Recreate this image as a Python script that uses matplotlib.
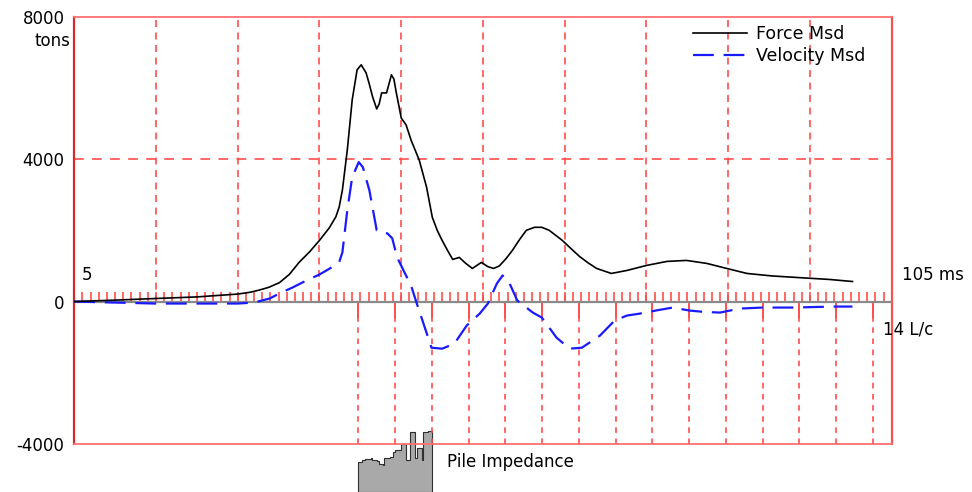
import matplotlib
matplotlib.use('Agg')
import matplotlib.pyplot as plt
import numpy as np

plt.rcParams['font.family'] = ['DejaVu Sans']
plt.rcParams['font.size'] = 12
plt.rcParams['lines.scale_dashes'] = False

# measured force (tons) vs time (ms)
force_t = [5, 10, 14.9, 20, 25, 26.5, 27.6, 28.8, 30.1, 31.3, 32.5, 33.8, 35, 36.2, 37.0,
           37.4, 37.8, 38.4, 39.0, 39.6, 40.1, 40.7, 41.1, 41.5, 42.0, 42.3, 42.6, 43.2,
           43.8, 44.1, 44.4, 45.0, 45.6, 46.2, 47.2, 48.1, 48.8, 49.4, 50.0, 50.7, 51.3,
           52.1, 52.9, 53.7, 54.8, 55.6, 56.3, 57.0, 57.8, 58.6, 59.5, 60.3, 61.3, 62.2,
           63.1, 64.7, 65.8, 66.8, 67.9, 68.9, 70.7, 72.6, 75.0, 77.5, 79.9, 82.4, 84.8,
           87.3, 90.3, 93.4, 97.4, 100.2]
force_v = [0, 40, 85, 130, 210, 260, 320, 400, 530, 760, 1099, 1400, 1718, 2070, 2380,
           2648, 3127, 4254, 5662, 6507, 6648, 6423, 6100, 5747, 5409, 5550, 5859, 5859,
           6366, 6250, 5859, 5155, 4958, 4535, 3972, 3211, 2366, 2000, 1718, 1420, 1183,
           1239, 1070, 930, 1099, 980, 930, 1000, 1200, 1437, 1750, 2000, 2085, 2085,
           2000, 1718, 1480, 1268, 1080, 930, 789, 873, 1014, 1127, 1155, 1070, 930,
           789, 720, 676, 620, 563]

# measured velocity (scaled to force units) vs time (ms)
vel_t = [5, 14.9, 25, 27.0, 28.9, 30.2, 31.7, 33.3, 35.0, 36.2, 37.4, 37.8, 38.4, 39.0,
         39.8, 40.3, 41.1, 42.0, 42.7, 43.3, 43.9, 44.5, 45.4, 46.2, 46.9, 47.6, 48.7,
         50.0, 51.5, 53.0, 54.6, 55.6, 56.7, 57.4, 58.2, 59.2, 61.1, 62.2, 64.0, 65.6,
         67.1, 69.3, 71.1, 72.6, 74.2, 76.2, 78.2, 80.3, 82.0, 84.0, 86.4, 89.2, 92.9,
         97.8, 100.2]
vel_v = [0, -56, -56, -28, 85, 240, 394, 580, 760, 920, 1099, 1380, 2563, 3493,
         3916, 3775, 3127, 2000, 1916, 1916, 1775, 1239, 817, 451, -56, -535, -1296,
         -1324, -1183, -676, -338, -56, 507, 732, 535, 28, -310, -451, -1014, -1324,
         -1296, -958, -535, -394, -338, -250, -169, -254, -290, -310, -197, -169, -169,
         -141, -141]

# pile impedance profile (position in L/c, relative impedance)
imp_x = [0.00, 0.09, 0.18, 0.35, 0.37, 0.50, 0.57, 0.68, 0.71, 0.86, 0.93, 1.01, 1.16,
         1.29, 1.41, 1.54, 1.60, 1.72, 1.77, 1.90, 2.00]
imp_h = [30, 32, 33, 34, 32, 31, 28, 27, 34, 35, 40, 42, 48, 32, 60, 34, 44, 32, 60, 61, 61]

y_ticks = [-4000, 0, 4000, 8000]
y_labels = ['-4000', '0', '4000', '8000']

t_start, t_end = 5, 105
lc_start, lc_ms, lc_count = 39.75, 4.497, 14

grid_red = '#ff4d4d'
light_red = '#ff7070'

fig = plt.figure(figsize=(9.72, 4.92), dpi=100)
ax = fig.add_axes([0.0764, 0.0976, 0.8410, 0.8685])
ax.set_xlim(t_start, t_end)
ax.set_ylim(-4000, 8000)

# spines
for s in ['top', 'bottom']:
    ax.spines[s].set_color(light_red)
    ax.spines[s].set_linewidth(1.3)
ax.spines['right'].set_color('#ff5050')
ax.spines['right'].set_linewidth(1.6)
ax.spines['left'].set_color('#d42a2a')
ax.spines['left'].set_linewidth(1.6)

# upper grid
ax.vlines(np.arange(15, 100, 10), 0, 8000, colors=grid_red, linewidth=1.2,
          linestyles=[(0, (5, 4))])
ax.hlines(4000, t_start, t_end, colors=grid_red, linewidth=1.2, linestyles=[(0, (7, 6))])

# lower L/c grid
lc_pos = lc_start + lc_ms * np.arange(lc_count + 1)
ax.vlines(lc_pos, -4000, 0, colors=grid_red, linewidth=1.2, linestyles=[(0, (4, 4))])
ax.vlines(lc_pos, -450, 0, colors=grid_red, linewidth=1.4)

# ms ticks on zero line
ax.vlines(np.arange(6, 105), 0, 260, colors=grid_red, linewidth=1.2)
ax.hlines(0, t_start, t_end, colors='#8a8a8a', linewidth=1.6, zorder=3)

ax.plot(force_t, force_v, color='black', linewidth=1.2, label='Force Msd', zorder=5)
ax.plot(vel_t, vel_v, color='#1a1aff', linewidth=1.6, linestyle=(0, (15, 7)),
        label='Velocity Msd', zorder=4)

# pile impedance below the plot
imp_scale = 4000 / 142.3
imp_base = -5360
ix = [lc_start + lc_ms * v for v in imp_x]
iy = [imp_base + h * imp_scale for h in imp_h]
ax.fill_between(ix, imp_base, iy, step='post', color='#a9a9a9', edgecolor='#303030',
                linewidth=0.8, clip_on=False)
ax.text(lc_start + lc_ms * 2.41, -4505, 'Pile Impedance', va='center', ha='left')

ax.set_xticks([])
ax.set_yticks(y_ticks)
ax.set_yticklabels(y_labels)
ax.tick_params(axis='y', length=0, pad=7)
ax.text(-0.005, 7330, 'tons', transform=ax.get_yaxis_transform(), ha='right', va='center')

ax.text(5.9, 740, '5', va='center', ha='left')
ax.text(106.2, 750, '105 ms', va='center', ha='left', clip_on=False)
ax.text(103.9, -780, '14 L/c', va='center', ha='left', clip_on=False)

ax.legend(loc='upper left', bbox_to_anchor=(0.757, 0.98), frameon=False, borderpad=0,
          handlelength=3.1, handletextpad=0.55, labelspacing=0.2, borderaxespad=0,
          fontsize=12.5)

fig.savefig('out.png', dpi=100)
